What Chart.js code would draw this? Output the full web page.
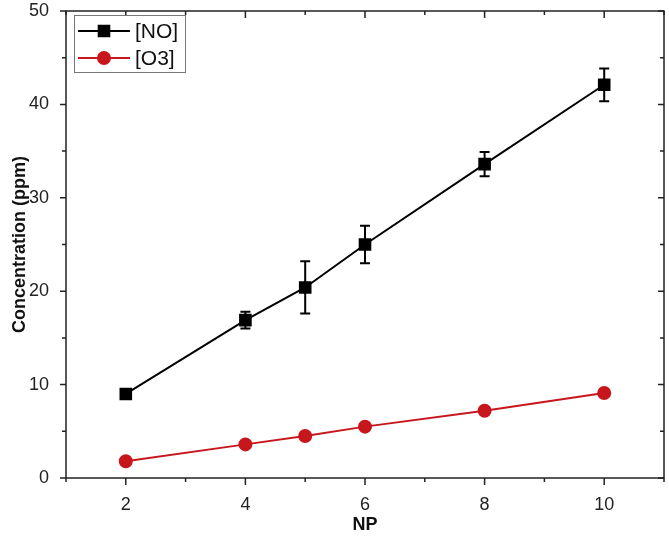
<!DOCTYPE html>
<html>
<head>
<meta charset="utf-8">
<script src="https://cdn.jsdelivr.net/npm/chart.js@4.4.0/dist/chart.umd.min.js"></script>
<style>
  html, body { margin: 0; padding: 0; background: #fff; }
  canvas { display: block; }
</style>
</head>
<body>
<canvas id="chart" width="669" height="540"></canvas>
<script>
const npValues = [2, 4, 5, 6, 8, 10];
const noValues = [9.0, 16.9, 20.4, 25.0, 33.6, 42.1];
const noErrors = [0.5, 0.9, 2.8, 2.0, 1.3, 1.75];
const o3Values = [1.8, 3.6, 4.5, 5.5, 7.2, 9.1];
const xMajorTicks = [2, 4, 6, 8, 10];
const xMinorTicks = [1, 3, 5, 7, 9, 11];
const yMajorTicks = [0, 10, 20, 30, 40, 50];
const yMinorTicks = [5, 15, 25, 35, 45];

const FONT = "'Liberation Sans', Arial, sans-serif";
const RED = "#c8161d";

// frame box with ticks on all four sides (outward bottom/left, inward top/right)
const frameTicks = {
  id: "frameTicks",
  afterDatasetsDraw(chart) {
    const { ctx, chartArea: a, scales: { x, y } } = chart;
    ctx.save();
    ctx.strokeStyle = "#222";
    ctx.lineWidth = 1.5;
    ctx.strokeRect(a.left, a.top, a.right - a.left, a.bottom - a.top);
    const tick = (vals, len, axis) => {
      vals.forEach(v => {
        ctx.beginPath();
        if (axis === "x") {
          const px = x.getPixelForValue(v);
          ctx.moveTo(px, a.bottom); ctx.lineTo(px, a.bottom + len);
          ctx.moveTo(px, a.top); ctx.lineTo(px, a.top + len);
        } else {
          const py = y.getPixelForValue(v);
          ctx.moveTo(a.left, py); ctx.lineTo(a.left - len, py);
          ctx.moveTo(a.right, py); ctx.lineTo(a.right - len, py);
        }
        ctx.stroke();
      });
    };
    tick(xMajorTicks, 7, "x");
    tick(xMinorTicks, 4, "x");
    tick(yMajorTicks, 6, "y");
    tick(yMinorTicks, 4, "y");
    ctx.restore();
  }
};

const errorBars = {
  id: "errorBars",
  beforeDatasetsDraw(chart) {
    const { ctx, scales: { y } } = chart;
    const meta = chart.getDatasetMeta(0);
    ctx.save();
    ctx.strokeStyle = "#000";
    ctx.lineWidth = 2;
    meta.data.forEach((pt, i) => {
      const top = y.getPixelForValue(noValues[i] + noErrors[i]);
      const bot = y.getPixelForValue(noValues[i] - noErrors[i]);
      ctx.beginPath();
      ctx.moveTo(pt.x, top); ctx.lineTo(pt.x, bot);
      ctx.moveTo(pt.x - 5, top); ctx.lineTo(pt.x + 5, top);
      ctx.moveTo(pt.x - 5, bot); ctx.lineTo(pt.x + 5, bot);
      ctx.stroke();
    });
    ctx.restore();
  }
};

const boxLegend = {
  id: "boxLegend",
  afterDraw(chart) {
    const ctx = chart.ctx;
    ctx.save();
    ctx.fillStyle = "#fff";
    ctx.fillRect(74.5, 15.5, 111, 57);
    ctx.strokeStyle = "#777";
    ctx.lineWidth = 1;
    ctx.strokeRect(74.5, 15.5, 111, 57);
    chart.data.datasets.forEach((ds, i) => {
      const yy = 31 + i * 27;
      ctx.strokeStyle = ds.borderColor;
      ctx.fillStyle = ds.backgroundColor;
      ctx.lineWidth = 2;
      ctx.beginPath();
      ctx.moveTo(78, yy); ctx.lineTo(130, yy);
      ctx.stroke();
      Chart.helpers.drawPoint(ctx, { pointStyle: ds.pointStyle, radius: ds.pointRadius, rotation: 0, borderWidth: 1 }, 104, yy);
      ctx.fillStyle = "#111";
      ctx.font = "21px " + FONT;
      ctx.textBaseline = "middle";
      ctx.fillText(ds.label, 135, yy + 1);
    });
    ctx.restore();
  }
};

new Chart(document.getElementById("chart"), {
  type: "line",
  data: {
    datasets: [
      {
        label: "[NO]",
        data: npValues.map((v, i) => ({ x: v, y: noValues[i] })),
        borderColor: "#000",
        backgroundColor: "#000",
        borderWidth: 2,
        pointStyle: "rect",
        pointRadius: 7.5,
        pointHoverRadius: 7.5,
        tension: 0
      },
      {
        label: "[O3]",
        data: npValues.map((v, i) => ({ x: v, y: o3Values[i] })),
        borderColor: RED,
        backgroundColor: RED,
        borderWidth: 2,
        pointStyle: "circle",
        pointRadius: 6,
        pointHoverRadius: 6,
        tension: 0
      }
    ]
  },
  options: {
    responsive: false,
    animation: false,
    devicePixelRatio: 1,
    layout: { autoPadding: false, padding: { top: 11, right: 5, left: 0, bottom: 0 } },
    plugins: { legend: { display: false }, tooltip: { enabled: false } },
    scales: {
      x: {
        type: "linear",
        min: 1,
        max: 11,
        grid: { display: false },
        border: { display: false },
        ticks: {
          stepSize: 1,
          autoSkip: false,
          maxRotation: 0,
          padding: 8,
          color: "#222",
          font: { size: 18, family: FONT },
          callback: v => xMajorTicks.includes(v) ? v : ""
        },
        title: {
          display: true,
          text: "NP",
          color: "#111",
          font: { size: 18, weight: "bold", family: FONT },
          padding: { top: 2, bottom: 4 }
        },
        afterFit: s => {
          s.height = 62;
          s.paddingLeft = 0;
          s.paddingRight = 0;
        }
      },
      y: {
        min: 0,
        max: 50,
        grid: { display: false },
        border: { display: false },
        ticks: {
          stepSize: 10,
          padding: 9,
          color: "#222",
          font: { size: 18, family: FONT }
        },
        title: {
          display: true,
          text: "Concentration (ppm)",
          color: "#111",
          font: { size: 18, weight: "bold", family: FONT },
          padding: { top: 9, bottom: 0 }
        },
        afterFit: s => {
          s.width = 66;
          s.paddingTop = 0;
          s.paddingBottom = 0;
        }
      }
    }
  },
  plugins: [frameTicks, errorBars, boxLegend]
});
</script>
</body>
</html>
